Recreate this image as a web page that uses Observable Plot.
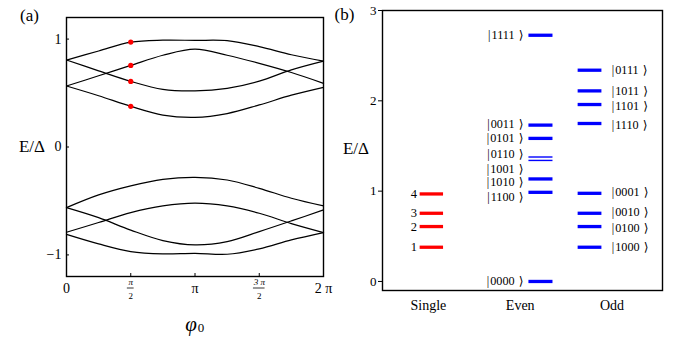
<!DOCTYPE html>
<html><head><meta charset="utf-8">
<script src="https://cdn.jsdelivr.net/npm/d3@7"></script>
<script src="https://cdn.jsdelivr.net/npm/@observablehq/plot@0.6"></script>
<style>
body{margin:0;background:#fff;}
#wrap{position:relative;width:681px;height:339px;overflow:hidden;background:#fff;}
#wrap svg{position:absolute;top:0;}
</style></head><body><div id="wrap"></div>
<script>
// ---------- Panel (a): energies vs phase (phase in units of π) ----------
const phiOverPi = [0, 0.25, 0.5, 0.75, 1, 1.25, 1.5, 1.75, 2];
const bandA = [0.805, 0.89, 0.972, 0.99, 0.988, 0.985, 0.93, 0.855, 0.796];
const bandB = [0.565, 0.66, 0.756, 0.85, 0.907, 0.85, 0.775, 0.69, 0.59];
const bandC = [0.806, 0.706, 0.608, 0.534, 0.52, 0.543, 0.61, 0.715, 0.796];
const bandD = [0.565, 0.475, 0.377, 0.296, 0.275, 0.31, 0.39, 0.48, 0.553];
const bandE = [-0.562, -0.444, -0.36, -0.30, -0.281, -0.306, -0.383, -0.475, -0.546];
const bandF = [-0.79, -0.70, -0.608, -0.546, -0.52, -0.546, -0.614, -0.71, -0.793];
const bandG = [-0.562, -0.655, -0.77, -0.867, -0.907, -0.877, -0.784, -0.685, -0.583];
const bandH = [-0.81, -0.898, -0.969, -0.99, -0.985, -0.994, -0.944, -0.861, -0.793];
const markedPhi = 0.5;
const markedE = [0.377, 0.608, 0.756, 0.972];
const xTickValues = [0, 0.5, 1, 1.5, 2];
const xTickLabels = ["0", "π/2", "π", "3 π/2", "2 π"];
const yTickValuesA = [-1, 0, 1];

// ---------- Panel (b): energy levels ----------
const columns = ["Single", "Even", "Odd"];
const singleLabels = ["1", "2", "3", "4"];
const singleE = [0.379, 0.608, 0.755, 0.969];
const evenStates = ["|0000⟩", "|1100⟩", "|1010⟩", "|1001⟩", "|0110⟩", "|0101⟩", "|0011⟩", "|1111⟩"];
const evenE = [0, 0.987, 1.135, 1.340, 1.378, 1.584, 1.731, 2.726];
const evenLabelE = [0, 0.939, 1.099, 1.249, 1.409, 1.592, 1.737, 2.726];
const oddStates = ["|1000⟩", "|0100⟩", "|0010⟩", "|0001⟩", "|1110⟩", "|1101⟩", "|1011⟩", "|0111⟩"];
const oddE = [0.379, 0.608, 0.755, 0.976, 1.749, 1.959, 2.11, 2.339];
const oddLabelE = [0.379, 0.593, 0.773, 0.987, 1.735, 1.94, 2.11, 2.339];
const yTickValuesB = [0, 1, 2, 3];

const FONT = "'Liberation Serif', 'DejaVu Serif', serif";
const KETFONT = "'Liberation Serif', 'DejaVu Sans', 'Noto Sans', serif";
const H = 339;
const wrap = document.getElementById("wrap");
const ket = s => s.replace("|", "|\u200A").replace("⟩", " \u200A⟩");

// ---- build panel (a)
const bands = [bandA, bandB, bandC, bandD, bandE, bandF, bandG, bandH];
const rows = bands.flatMap((b, k) => b.map((e, j) => ({band: k, phi: phiOverPi[j], e})));
const mA = {top: 17, right: 5, bottom: 63, left: 66};
const WA = 328;
const xDomA = [0, 2], yDomA = [-1.2, 1.2];
const innerWA = WA - mA.left - mA.right;
const innerHA = H - mA.top - mA.bottom;
const pxX = (xDomA[1] - xDomA[0]) / innerWA;
const pxY = (yDomA[1] - yDomA[0]) / innerHA;
const idx = xTickLabels.map((_, i) => i);
const mainIdx = idx.filter(i => !xTickLabels[i].includes("/"));
const fracIdx = idx.filter(i => xTickLabels[i].includes("/"));
const num = i => xTickLabels[i].split("/")[0];
const den = i => xTickLabels[i].split("/")[1];
const barHalf = i => (num(i).length > 1 ? 5.8 : 3.4) * pxX;
const C = {textAnchor: "middle", lineAnchor: "middle"};

const plotA = Plot.plot({
  width: WA, height: H,
  marginTop: mA.top, marginRight: mA.right, marginBottom: mA.bottom, marginLeft: mA.left,
  x: {domain: xDomA, axis: null},
  y: {domain: yDomA, axis: null},
  style: {fontFamily: FONT, fontSize: "14px", color: "black", background: "transparent", overflow: "visible"},
  marks: [
    Plot.line(rows, {x: "phi", y: "e", z: "band", curve: "catmull-rom", stroke: "black", strokeWidth: 1.2}),
    Plot.dot(markedE, {x: () => markedPhi, y: d => d, r: 2.6, fill: "#ff0000", stroke: "none"}),
    Plot.frame({stroke: "black", strokeWidth: 1.4}),
    Plot.tickX(xTickValues, {x: d => d, insetTop: innerHA - 3, stroke: "black"}),
    Plot.tickY(yTickValuesA, {y: d => d, insetRight: innerWA - 3, stroke: "black"}),
    Plot.text(yTickValuesA, {y: d => d, frameAnchor: "left", dx: -5, textAnchor: "end", lineAnchor: "middle",
      text: d => d < 0 ? "\u2212" + Math.abs(d) : String(d), fontSize: 14}),
    Plot.text(mainIdx, {...C, x: i => xTickValues[i], text: i => xTickLabels[i], frameAnchor: "bottom", dy: 12, fontSize: 14}),
    Plot.text(fracIdx, {...C, x: i => xTickValues[i], text: num, frameAnchor: "bottom", dy: 6, fontSize: 9, fontStyle: "italic"}),
    Plot.ruleY(fracIdx, {y: () => yDomA[0] - 11.5 * pxY, x1: i => xTickValues[i] - barHalf(i), x2: i => xTickValues[i] + barHalf(i), stroke: "black", strokeWidth: 0.8}),
    Plot.text(fracIdx, {...C, x: i => xTickValues[i], text: den, frameAnchor: "bottom", dy: 20, fontSize: 9}),
    Plot.text(["φ"], {...C, text: d => d, frameAnchor: "bottom", dy: 48, dx: -4, fontSize: 21, fontStyle: "italic"}),
    Plot.text(["0"], {...C, text: d => d, frameAnchor: "bottom", dy: 51.5, dx: 6, fontSize: 13}),
    Plot.text(["(a)"], {...C, text: d => d, frameAnchor: "top-left", dx: -37, dy: -2, fontSize: 17}),
    Plot.text(["E/Δ"], {...C, text: d => d, frameAnchor: "left", dx: -34.5, dy: 0, fontSize: 17})
  ]
});
plotA.style.left = "0px";
wrap.appendChild(plotA);

// ---- build panel (b)
const WB = 353;
const mB = {top: 10, right: 19, bottom: 49, left: 54};
const thinPair = new Set(["|1001⟩", "|0110⟩"]);
const sIdx = singleE.map((_, i) => i);
const eIdx = evenE.map((_, i) => i);
const oIdx = oddE.map((_, i) => i);
const plotB = Plot.plot({
  width: WB, height: H,
  marginTop: mB.top, marginRight: mB.right, marginBottom: mB.bottom, marginLeft: mB.left,
  x: {domain: [0.5, 3.55], axis: null},
  y: {domain: [-0.1, 3], ticks: yTickValuesB, tickSize: 4, tickPadding: 2, label: null, tickFormat: d => String(d)},
  style: {fontFamily: FONT, fontSize: "13px", color: "black", background: "transparent", overflow: "visible"},
  marks: [
    Plot.ruleY(sIdx, {y: i => singleE[i], x1: 0.91, x2: 1.165, stroke: "#ff0000", strokeWidth: 3.3}),
    Plot.text(sIdx, {y: i => singleE[i], x: 0.875, text: i => singleLabels[i], textAnchor: "end", lineAnchor: "middle", fontSize: 12.5}),
    Plot.ruleY(eIdx, {y: i => evenE[i], x1: 2.095, x2: 2.357, stroke: "#0000ff",
      strokeWidth: i => thinPair.has(evenStates[i]) ? 1.4 : 3.3}),
    Plot.text(eIdx, {y: i => evenLabelE[i], x: 2.035, text: i => ket(evenStates[i]), textAnchor: "end", lineAnchor: "middle", fontSize: 12.2, fontFamily: KETFONT, fill: "black"}),
    Plot.ruleY(oIdx, {y: i => oddE[i], x1: 2.631, x2: 2.89, stroke: "#0000ff", strokeWidth: 3.3}),
    Plot.text(oIdx, {y: i => oddLabelE[i], x: 2.997, text: i => ket(oddStates[i]), textAnchor: "start", lineAnchor: "middle", fontSize: 12.2, fontFamily: KETFONT, fill: "black"}),
    Plot.frame({stroke: "black", strokeWidth: 1.4}),
    Plot.text(columns, {...C, x: (d, i) => i + 1, text: d => d, frameAnchor: "bottom", dy: 15, fontSize: 14}),
    Plot.text(["(b)"], {...C, text: d => d, frameAnchor: "top-left", dx: -38, dy: 4, fontSize: 17}),
    Plot.text(["E/Δ"], {...C, text: d => d, frameAnchor: "left", dx: -26.5, dy: -2, fontSize: 17})
  ]
});
plotB.style.left = "328px";
wrap.appendChild(plotB);
</script>
</body></html>
